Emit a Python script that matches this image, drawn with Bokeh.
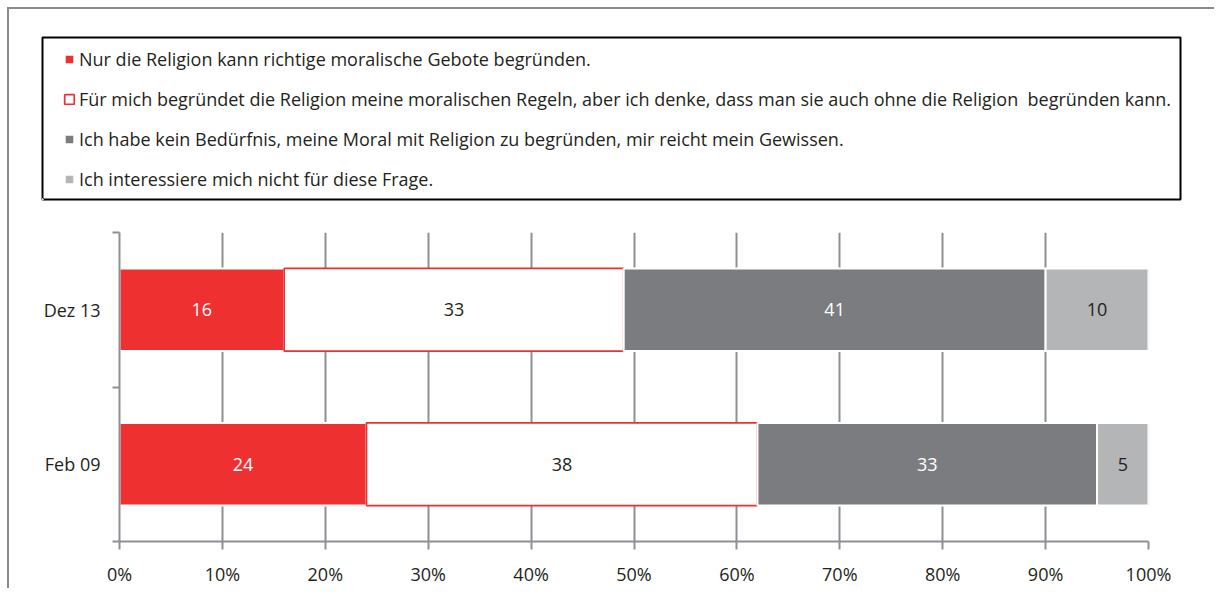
from bokeh.plotting import figure
from bokeh.layouts import column
from bokeh.models import (ColumnDataSource, FixedTicker, LinearAxis, Legend, LegendItem,
                          Range1d, LabelSet)
from bokeh.embed import file_html
from bokeh.resources import INLINE
from bokeh.core.properties import value

# ---------------- data ----------------
periods = ["Feb 09", "Dez 13"]
series_labels = [
    "Nur die Religion kann richtige moralische Gebote begründen.",
    "Für mich begründet die Religion meine moralischen Regeln, aber ich denke, dass man sie auch ohne die Religion  begründen kann.",
    "Ich habe kein Bedürfnis, meine Moral mit Religion zu begründen, mir reicht mein Gewissen.",
    "Ich interessiere mich nicht für diese Frage.",
]
values_religion_only = [24, 16]
values_religion_but = [38, 33]
values_conscience = [33, 41]
values_not_interested = [5, 10]
x_ticks = [0, 10, 20, 30, 40, 50, 60, 70, 80, 90, 100]
x_tick_labels = ["0%", "10%", "20%", "30%", "40%", "50%", "60%", "70%", "80%", "90%", "100%"]

series_values = [values_religion_only, values_religion_but, values_conscience, values_not_interested]

# ---------------- styles ----------------
FONT = "Open Sans"
TXT = "#231f20"
GRID = "#8e8f94"
fills = ["#ee3130", "#ffffff", "#7b7c80", "#b3b5b7"]
outlines = ["#ffffff", "#ee3130", "#ffffff", "#ffffff"]
outline_w = [2, 1.75, 2, 2]
label_colors = ["#ffffff", TXT, "#ffffff", TXT]
FS = "18px"

W = 1205
centers = [i + 0.5 for i in range(len(periods))]

# stacked extents
stacks = []
cum = [0] * len(periods)
for vals in series_values:
    left = list(cum)
    right = [a + b for a, b in zip(cum, vals)]
    cum = right
    stacks.append((left, right, vals))

# ---------------- legend figure ----------------
# bars here lie outside the visible range; they only supply the legend glyphs
top = figure(width=W, height=200, output_backend="svg", toolbar_location=None,
             x_range=Range1d(1000, 1001), y_range=Range1d(1000, 1001),
             x_axis_location=None, y_axis_location=None,
             min_border_left=33, min_border_right=W - 1171, min_border_top=28, min_border_bottom=10)
top.frame_align = False
top.grid.visible = False
top.outline_line_color = "black"
top.outline_line_width = 2
top.border_fill_color = "white"

legend_renderers = []
for k, (left, right, vals) in enumerate(stacks):
    r = top.hbar(y=centers, left=left, right=right, height=0.535,
                 fill_color=fills[k], line_color=outlines[k], line_width=outline_w[k])
    legend_renderers.append(r)

legend = Legend(items=[LegendItem(label=series_labels[k], renderers=[legend_renderers[k]], index=0)
                       for k in range(len(series_labels))],
                location=(21, 8), orientation="vertical",
                padding=0, spacing=16, margin=0,
                glyph_width=12, glyph_height=12, label_standoff=4,
                label_height=20,
                label_text_font=FONT, label_text_font_size="18px",
                label_text_color=TXT,
                border_line_color=None, background_fill_alpha=0)
top.add_layout(legend, "center")

# ---------------- bar figure ----------------
p = figure(width=W, height=379, output_backend="svg", toolbar_location=None,
           x_range=Range1d(0, 100), y_range=Range1d(0, len(periods)),
           x_axis_location="below", y_axis_location=None,
           min_border_left=110, min_border_right=W - 1139, min_border_top=23, min_border_bottom=46)
p.frame_align = False
p.outline_line_color = None

p.ygrid.visible = False
p.xgrid.ticker = FixedTicker(ticks=x_ticks[1:])
p.xgrid.grid_line_color = GRID
p.xgrid.grid_line_width = 2

xa = p.xaxis[0]
xa.ticker = FixedTicker(ticks=x_ticks)
xa.major_label_overrides = {t: l for t, l in zip(x_ticks, x_tick_labels)}
xa.axis_line_color = GRID
xa.axis_line_width = 2
xa.major_tick_line_color = GRID
xa.major_tick_line_width = 2
xa.major_tick_out = 8
xa.major_tick_in = 0
xa.minor_tick_line_color = None
xa.major_label_standoff = 12
xa.major_label_text_font = FONT
xa.major_label_text_font_size = FS
xa.major_label_text_color = TXT

bounds = list(range(len(periods) + 1))
ya_ticks = LinearAxis(ticker=FixedTicker(ticks=bounds),
                      major_label_overrides={b: "" for b in bounds})
ya_ticks.axis_line_color = GRID
ya_ticks.axis_line_width = 2
ya_ticks.major_tick_line_color = GRID
ya_ticks.major_tick_line_width = 2
ya_ticks.major_tick_out = 7
ya_ticks.major_tick_in = 0
ya_ticks.minor_tick_line_color = None
ya_ticks.major_label_standoff = 0
ya_ticks.major_label_text_font_size = "1px"
p.add_layout(ya_ticks, "left")

ya_labels = LinearAxis(ticker=FixedTicker(ticks=centers),
                       major_label_overrides={c: lab for c, lab in zip(centers, periods)})
ya_labels.axis_line_color = None
ya_labels.major_tick_line_color = None
ya_labels.minor_tick_line_color = None
ya_labels.major_tick_out = 0
ya_labels.major_tick_in = 0
ya_labels.major_label_standoff = 12
ya_labels.major_label_text_font = FONT
ya_labels.major_label_text_font_size = FS
ya_labels.major_label_text_color = TXT
p.add_layout(ya_labels, "left")

for k, (left, right, vals) in enumerate(stacks):
    src = ColumnDataSource(dict(y=centers, left=left, right=right,
                                mid=[(a + b) / 2 for a, b in zip(left, right)],
                                txt=[str(v) for v in vals]))
    p.hbar(y="y", left="left", right="right", height=0.535, source=src,
           fill_color=fills[k], line_color=outlines[k], line_width=outline_w[k])
    p.add_layout(LabelSet(x="mid", y="y", text="txt", source=src,
                          text_align="center", text_baseline="middle",
                          text_font=value(FONT), text_font_size=FS,
                          text_color=label_colors[k]))

layout = column(top, p, spacing=0)
layout.styles = {"border-left": "2px solid #8a8a8a", "border-top": "2px solid #8a8a8a",
                 "border-right": "0px none", "border-bottom": "0px none",
                 "margin-left": "7px", "margin-top": "7px"}

open("out.html", "w").write(file_html(layout, INLINE))
